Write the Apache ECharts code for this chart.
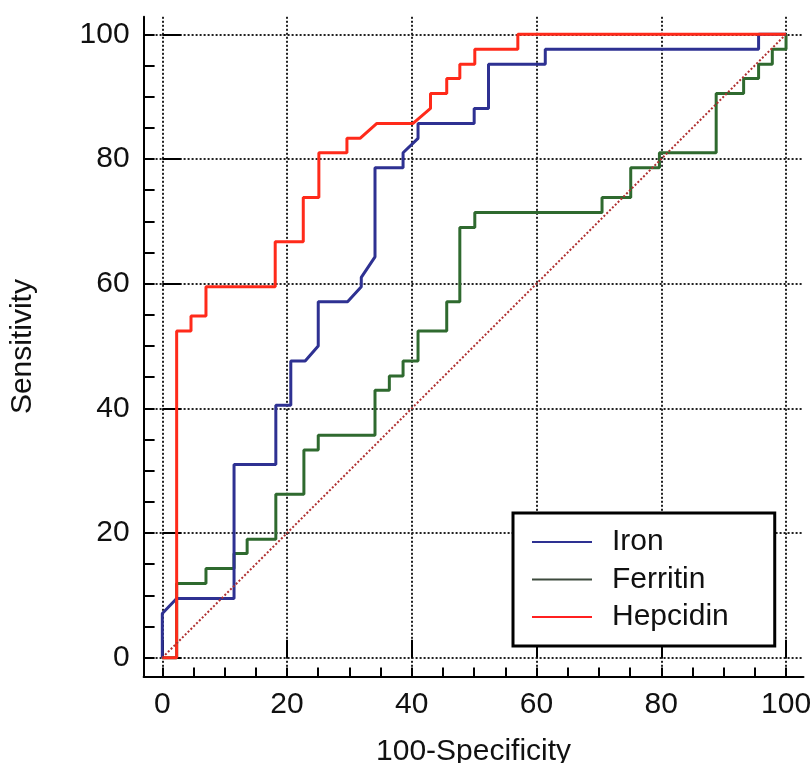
<!DOCTYPE html>
<html>
<head>
<meta charset="utf-8">
<script src="https://cdn.jsdelivr.net/npm/echarts@6/dist/echarts.min.js"></script>
<style>
  html, body { margin: 0; padding: 0; background: #fff; }
  #chart { width: 811px; height: 763px; }
</style>
</head>
<body>
<div id="chart"></div>
<script>
// ROC curves: 100-Specificity (x) vs Sensitivity (y)
const ironX = [0, 0, 2.3, 11.5, 11.5, 18.2, 18.2, 20.6, 20.6, 22.9, 25.0, 25.0, 29.7, 31.9, 31.9, 34.1, 34.1, 38.6, 38.6, 41.0, 41.0, 50.0, 50.0, 52.3, 52.3, 61.4, 61.4, 95.6, 95.6, 100]
const ironY = [0, 7.1, 9.5, 9.5, 31.0, 31.0, 40.5, 40.5, 47.6, 47.6, 50.0, 57.1, 57.1, 59.5, 61.0, 64.3, 78.6, 78.6, 81.0, 83.3, 85.7, 85.7, 88.1, 88.1, 95.2, 95.2, 97.6, 97.6, 100, 100]

const ferritinX = [0, 2.3, 2.3, 7.0, 7.0, 11.5, 11.5, 13.6, 13.6, 18.2, 18.2, 22.7, 22.7, 25.0, 25.0, 34.1, 34.1, 36.4, 36.4, 38.6, 38.6, 41.0, 41.0, 45.6, 45.6, 47.7, 47.7, 50.1, 50.1, 70.5, 70.5, 75.1, 75.1, 79.7, 79.7, 88.8, 88.8, 93.2, 93.2, 95.6, 95.6, 97.8, 97.8, 100, 100]
const ferritinY = [0, 0, 11.9, 11.9, 14.3, 14.3, 16.7, 16.7, 19.0, 19.0, 26.2, 26.2, 33.3, 33.3, 35.7, 35.7, 42.9, 42.9, 45.2, 45.2, 47.6, 47.6, 52.4, 52.4, 57.1, 57.1, 69.0, 69.0, 71.4, 71.4, 73.8, 73.8, 78.6, 78.6, 81.0, 81.0, 90.5, 90.5, 92.9, 92.9, 95.2, 95.2, 97.6, 97.6, 100]

const hepcidinX = [0, 2.3, 2.3, 4.6, 4.6, 7.0, 7.0, 18.1, 18.1, 22.6, 22.6, 25.1, 25.1, 29.6, 29.6, 31.7, 34.4, 40.2, 43.0, 43.0, 45.6, 45.6, 47.7, 47.7, 50.1, 50.1, 57.0, 57.0, 100]
const hepcidinY = [0, 0, 52.4, 52.4, 54.8, 54.8, 59.5, 59.5, 66.7, 66.7, 73.8, 73.8, 81.0, 81.0, 83.3, 83.3, 85.7, 85.7, 88.1, 90.5, 90.5, 92.9, 92.9, 95.2, 95.2, 97.6, 97.6, 100, 100]

const chanceX = [0, 100]
const chanceY = [0, 100]

const majorTicks = [0, 20, 40, 60, 80, 100]
const minorTicks = [0, 5, 10, 15, 20, 25, 30, 35, 40, 45, 50, 55, 60, 65, 70, 75, 80, 85, 90, 95, 100]

const FONT = '"Liberation Sans", Arial, sans-serif'
const AXIS_MIN = -3
const AXIS_MAX = 102.8

const toPairs = (xs, ys) => xs.map((x, i) => [x, ys[i]])

// main axis: line, short ticks and labels
const mainAxis = (isX) => ({
  type: 'value',
  min: AXIS_MIN,
  max: AXIS_MAX,
  position: isX ? 'bottom' : 'left',
  name: isX ? '100-Specificity' : 'Sensitivity',
  nameLocation: 'middle',
  nameGap: isX ? 60 : 106,
  nameTextStyle: { fontSize: 30, fontFamily: FONT, color: '#111' },
  axisLine: { show: true, onZero: false, lineStyle: { color: '#000', width: 2 } },
  axisTick: {
    inside: true,
    length: isX ? 9 : 11,
    customValues: minorTicks,
    lineStyle: { color: '#000', width: 2 }
  },
  axisLabel: {
    customValues: majorTicks,
    fontSize: 30,
    fontFamily: FONT,
    color: '#111',
    margin: isX ? 13 : 14
  },
  splitLine: { show: false }
})

// second axis on the same side: long major ticks + dotted grid
const gridAxis = (isX) => ({
  type: 'value',
  min: AXIS_MIN,
  max: AXIS_MAX,
  position: isX ? 'bottom' : 'left',
  axisLine: { show: false },
  axisTick: {
    show: true,
    inside: true,
    length: isX ? 18 : 19,
    customValues: majorTicks,
    lineStyle: { color: '#000', width: 2 }
  },
  axisLabel: { show: false },
  splitLine: { show: true, lineStyle: { color: '#222', width: 2, type: 'dotted' } }
})

const chart = echarts.init(document.getElementById('chart'))

chart.setOption({
  animation: false,
  backgroundColor: '#fff',
  grid: { left: 143.6, right: 7.5, top: 16.8, bottom: 86.6, containLabel: false, outerBoundsMode: 'none' },
  xAxis: [mainAxis(true), gridAxis(true)],
  yAxis: [mainAxis(false), gridAxis(false)],
  legend: {
    orient: 'vertical',
    left: 513,
    top: 513,
    padding: [14, 46, 14, 19],
    icon: 'rect',
    itemWidth: 60,
    itemHeight: 2,
    itemGap: 7.5,
    borderColor: '#000',
    borderWidth: 3,
    backgroundColor: '#fff',
    textStyle: { fontSize: 30, fontFamily: FONT, color: '#111', padding: [0, 0, 0, 15] },
    data: [
      { name: 'Iron', itemStyle: { color: '#2e3192' } },
      { name: 'Ferritin', itemStyle: { color: '#3d4a3d' } },
      { name: 'Hepcidin', itemStyle: { color: '#ff2020' } }
    ]
  },
  series: [
    {
      name: 'Ferritin',
      type: 'line',
      data: toPairs(ferritinX, ferritinY),
      symbol: 'none',
      color: '#2f6a2f',
      lineStyle: { width: 3 }
    },
    {
      name: 'Iron',
      type: 'line',
      data: toPairs(ironX, ironY),
      symbol: 'none',
      color: '#2e3192',
      lineStyle: { width: 3 }
    },
    {
      name: 'Hepcidin',
      type: 'line',
      data: toPairs(hepcidinX, hepcidinY),
      symbol: 'none',
      color: '#ff2a1a',
      lineStyle: { width: 3 }
    },
    {
      name: 'Reference',
      type: 'line',
      data: toPairs(chanceX, chanceY),
      symbol: 'none',
      color: '#b03030',
      lineStyle: { width: 2, type: 'dotted' }
    }
  ]
})
</script>
</body>
</html>
